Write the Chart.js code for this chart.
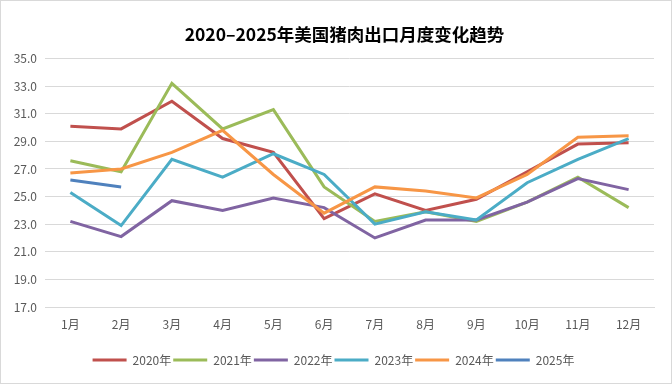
<!DOCTYPE html>
<html>
<head>
<meta charset="utf-8">
<script src="https://cdn.jsdelivr.net/npm/chart.js@4.4.0/dist/chart.umd.min.js"></script>
<style>
  html, body { margin: 0; padding: 0; background: #ffffff; }
  #wrap { position: relative; width: 672px; height: 384px; box-sizing: border-box; border: 1px solid #d9d9d9; background: #fff; }
  #wrap canvas { display: block; }
</style>
</head>
<body>
<div id="wrap"><canvas id="c"></canvas></div>
<script>
const titleText = '2020–2025年美国猪肉出口月度变化趋势';
const months = ['1月','2月','3月','4月','5月','6月','7月','8月','9月','10月','11月','12月'];
const seriesNames = ['2020年','2021年','2022年','2023年','2024年','2025年'];
const y2020 = [30.1, 29.9, 31.9, 29.2, 28.2, 23.4, 25.2, 24.0, 24.8, 26.8, 28.8, 28.9];
const y2021 = [27.6, 26.8, 33.2, 29.9, 31.3, 25.7, 23.2, 23.9, 23.2, 24.6, 26.4, 24.2];
const y2022 = [23.2, 22.1, 24.7, 24.0, 24.9, 24.2, 22.0, 23.3, 23.3, 24.6, 26.3, 25.5];
const y2023 = [25.3, 22.9, 27.7, 26.4, 28.1, 26.6, 23.0, 23.9, 23.3, 26.0, 27.7, 29.2];
const y2024 = [26.7, 27.0, 28.2, 29.8, 26.6, 23.8, 25.7, 25.4, 24.9, 26.6, 29.3, 29.4];
const y2025 = [26.2, 25.7, null, null, null, null, null, null, null, null, null, null];
const yMin = 17, yMax = 35, yStep = 2;

const allSeries = [y2020, y2021, y2022, y2023, y2024, y2025];
const colors = ['#C0504D', '#9BBB59', '#8064A2', '#4BACC6', '#F79646', '#4F81BD'];

const FONT = '"Noto Sans CJK SC", "Noto Sans", sans-serif';

const datasets = allSeries.map((d, i) => ({
  label: seriesNames[i],
  data: d,
  borderColor: colors[i],
  backgroundColor: colors[i],
  borderWidth: 3,
  pointRadius: 0,
  pointHoverRadius: 0,
  tension: 0,
  fill: false,
  spanGaps: false,
  order: allSeries.length - i
}));

const shiftTitle = {
  id: 'shiftTitle',
  afterLayout(chart) {
    const t = chart.titleBlock;
    if (t) { t.left -= 5; t.right -= 5; }
  }
};

new Chart(document.getElementById('c'), {
  type: 'line',
  data: { labels: months, datasets },
  plugins: [shiftTitle],
  options: {
    responsive: true,
    maintainAspectRatio: false,
    animation: false,
    events: [],
    layout: { padding: { left: 12, right: 17, top: 0, bottom: 7 } },
    plugins: {
      title: {
        display: true,
        text: titleText,
        fullSize: false,
        color: '#000000',
        font: { family: FONT, size: 17.5, weight: 'bold', lineHeight: 1.2 },
        padding: { top: 23, bottom: 13.5 }
      },
      legend: {
        display: true,
        position: 'bottom',
        labels: {
          usePointStyle: true,
          pointStyle: 'line',
          pointStyleWidth: 34,
          boxHeight: 12,
          padding: 2,
          color: '#595959',
          font: { family: FONT, size: 12 },
          sort: (a, b) => a.datasetIndex - b.datasetIndex
        }
      },
      tooltip: { enabled: false }
    },
    scales: {
      x: {
        type: 'category',
        offset: true,
        grid: { display: false, drawTicks: false },
        border: { display: true, color: '#d9d9d9', width: 1 },
        ticks: { color: '#595959', font: { family: FONT, size: 12 }, padding: 10, maxRotation: 0, autoSkip: false },
        afterFit: (s) => { s.height = 45; }
      },
      y: {
        min: yMin,
        max: yMax,
        grid: { color: '#d9d9d9', lineWidth: 1, drawTicks: false },
        border: { display: false },
        ticks: {
          stepSize: yStep,
          color: '#595959',
          font: { family: FONT, size: 12 },
          padding: 8,
          callback: (v) => Number(v).toFixed(1)
        },
        afterFit: (s) => { s.width = 32; }
      }
    }
  }
});
</script>
</body>
</html>
